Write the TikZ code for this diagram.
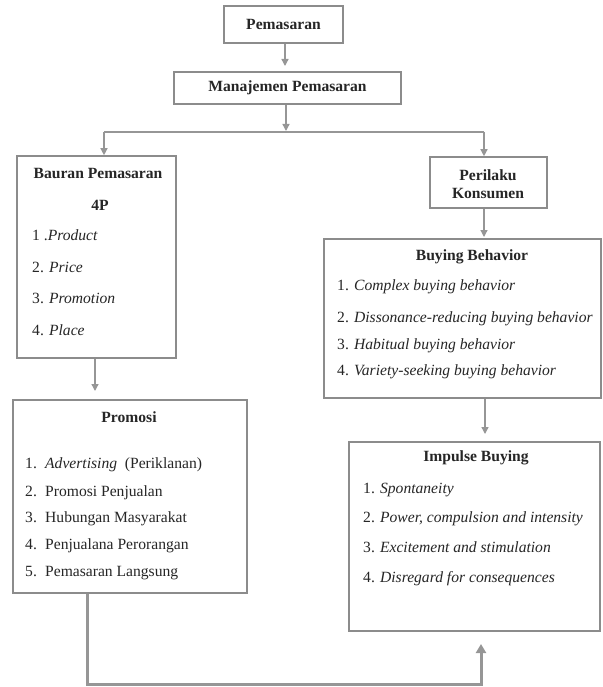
\documentclass[tikz,border=0pt]{standalone}
\usepackage{fontspec}
\setmainfont{Liberation Serif}
\usetikzlibrary{arrows.meta}
\definecolor{boxgray}{RGB}{140,140,140}
\definecolor{arrgray}{RGB}{150,150,150}
\tikzset{
  boxnode/.style={draw=boxgray, line width=1.6pt, fill=white, inner sep=0pt},
  txt/.style={inner sep=0pt, font=\fontsize{15.6}{18}\selectfont, text=black!85},
  btxt/.style={txt, font=\fontsize{15.6}{18}\selectfont\bfseries},
  item/.style={txt, anchor=base west},
  arr/.style={draw=arrgray, line width=1.3pt, -{Triangle[width=7pt,length=7pt]}},
  conn/.style={draw=arrgray, line width=1.3pt},
  thickarr/.style={draw=arrgray, line width=3pt, -{Triangle[width=10pt,length=9pt]}}
}
\newcommand{\mkbox}[5]{\node[boxnode, minimum width=#4-#2, minimum height=#5-#3] (#1) at ({(#2+#4)/2},{(#3+#5)/2}) {};}
\begin{document}
\begin{tikzpicture}[x=1pt,y=-1pt]
\useasboundingbox (0,0) rectangle (602,687);
% boxes
\mkbox{pem}{224}{6}{343}{43}
\mkbox{man}{174}{72}{401}{104}
\mkbox{bau}{17}{156}{176}{358}
\mkbox{per}{430}{157}{547}{208}
\mkbox{buy}{324}{239}{601}{398}
\mkbox{pro}{13}{400}{247}{593}
\mkbox{imp}{349}{442}{600}{631}
% titles
\node[btxt] (tpem) at (pem.center) {Pemasaran};
\node[btxt] (tman) at (man.center) {Manajemen Pemasaran};
\node[btxt] (tbau) at (98,173) {Bauran Pemasaran};
\node[btxt] (t4p) at (100,205) {4P};
\node[btxt] (tper1) at (488,175) {Perilaku};
\node[btxt] (tper2) at (488,193) {Konsumen};
\node[btxt] (tbuy) at (472,257) {Buying Behavior};
\node[btxt] (tpro) at (129,417) {Promosi};
\node[btxt] (timp) at (476,458) {Impulse Buying};
% Bauran items
\node[item] (b1) at (32,240) {1 .\textit{Product}};
\node[item] (b2) at (32,272) {2. \textit{Price}};
\node[item] (b3) at (32,303) {3. \textit{Promotion}};
\node[item] (b4) at (32,335) {4. \textit{Place}};
% Buying items
\node[item] (y1) at (337,290) {1. \textit{Complex buying behavior}};
\node[item] (y2) at (337,322) {2. \textit{Dissonance-reducing buying behavior}};
\node[item] (y3) at (337,349) {3. \textit{Habitual buying behavior}};
\node[item] (y4) at (337,375) {4. \textit{Variety-seeking buying behavior}};
% Promosi items
\node[item] (p1n) at (25,468) {1.};
\node[item] (p1) at (45,468) {\textit{Advertising}\enspace(Periklanan)};
\node[item] (p2n) at (25,496) {2.};
\node[item] (p2) at (45,496) {Promosi Penjualan};
\node[item] (p3n) at (25,522) {3.};
\node[item] (p3) at (45,522) {Hubungan Masyarakat};
\node[item] (p4n) at (25,549) {4.};
\node[item] (p4) at (45,549) {Penjualana Perorangan};
\node[item] (p5n) at (25,576) {5.};
\node[item] (p5) at (45,576) {Pemasaran Langsung};
% Impulse items
\node[item] (i1) at (363,493) {1. \textit{Spontaneity}};
\node[item] (i2) at (363,522) {2. \textit{Power, compulsion and intensity}};
\node[item] (i3) at (363,552) {3. \textit{Excitement and stimulation}};
\node[item] (i4) at (363,582) {4. \textit{Disregard for consequences}};
% connectors
\coordinate (pemtip) at (285,66);
\coordinate (mantip) at (286,131);
\coordinate (brL) at (104,132);
\coordinate (brR) at (484,132);
\coordinate (bautip) at (95,391);
\coordinate (pertip) at (484,237);
\coordinate (buytip) at (485,434);
\coordinate (bl) at (87,684);
\coordinate (br) at (481,684);
\coordinate (imptip) at (481,644);
\draw[arr] (pem.south -| pemtip) -- (pemtip);
\draw[arr] (man.south -| mantip) -- (mantip);
\draw[conn] (brL) -- (brR);
\draw[arr] (brL) -- (brL |- bau.north);
\draw[arr] (brR) -- (brR |- per.north);
\draw[arr] (bau.south -| bautip) -- (bautip);
\draw[arr] (per.south -| pertip) -- (pertip);
\draw[arr] (buy.south -| buytip) -- (buytip);
\draw[thickarr] (pro.south -| bl) -- (bl) -- (br) -- (imptip);
\end{tikzpicture}
\end{document}
